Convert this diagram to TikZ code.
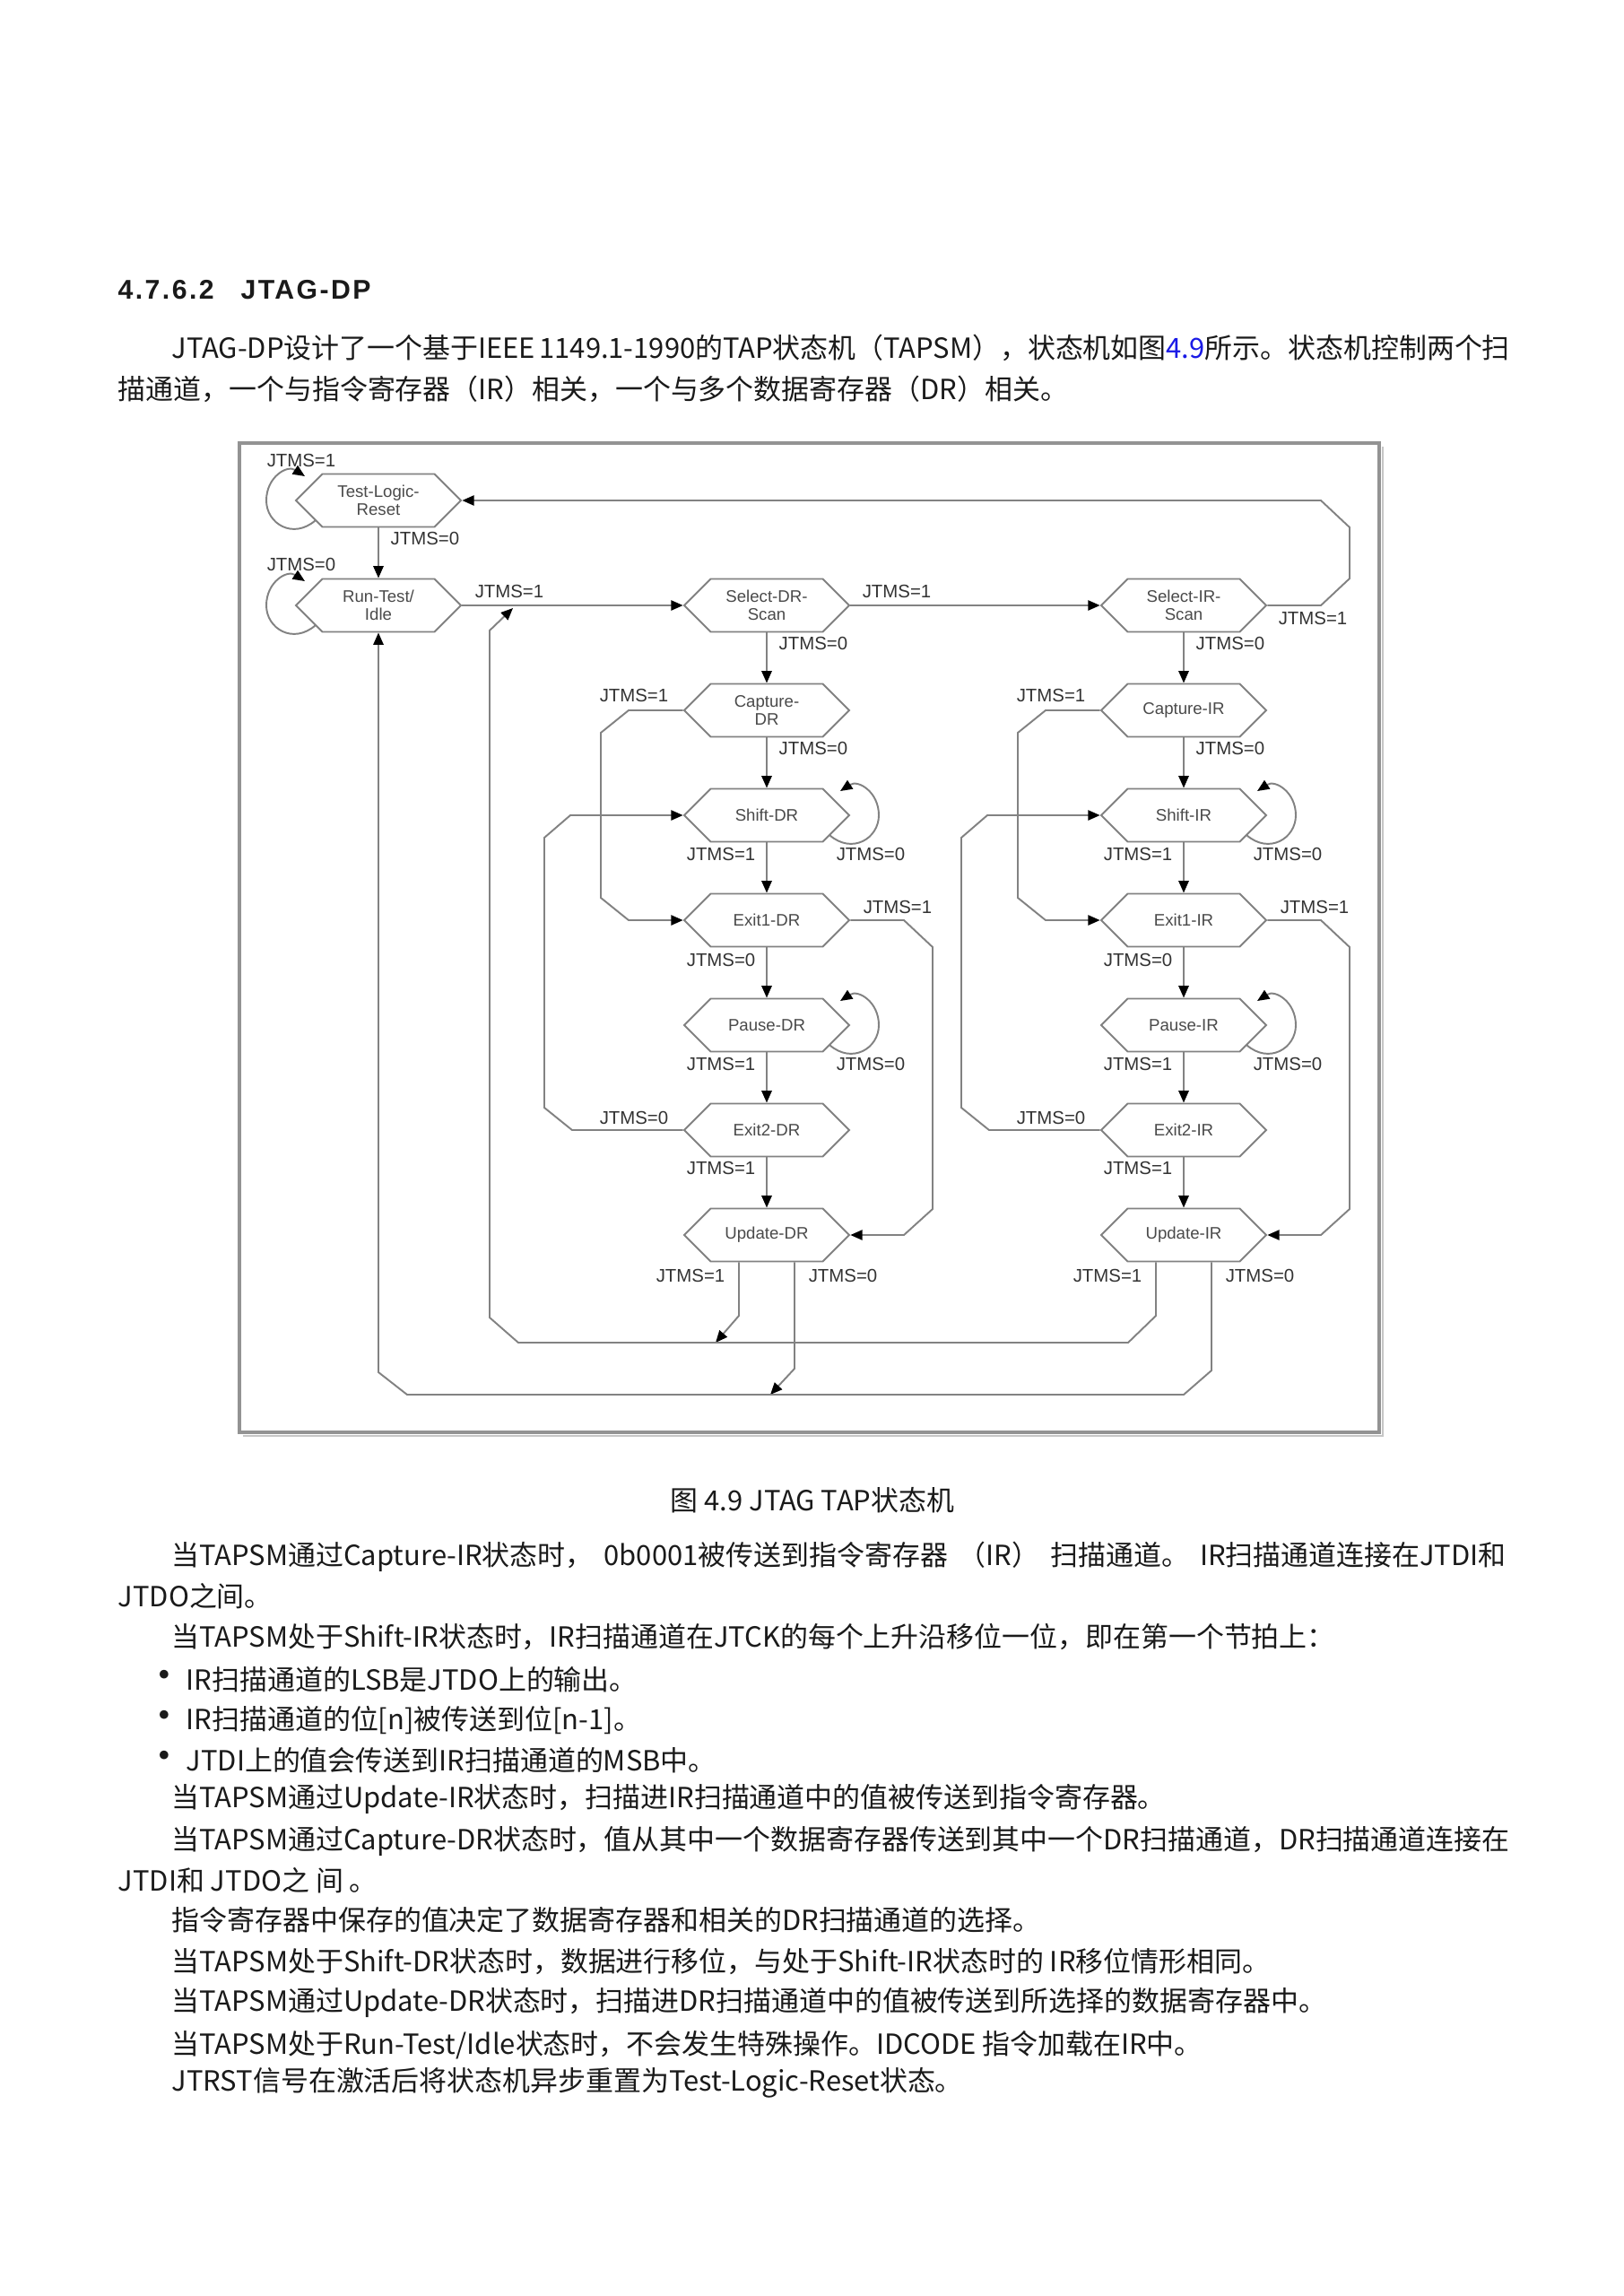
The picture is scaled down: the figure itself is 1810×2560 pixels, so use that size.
\documentclass[tikz,border=0pt]{standalone}
\usepackage{fontspec}
\setmainfont{Noto Sans CJK SC}
\newfontfamily\diagfont{Liberation Sans}
\newfontfamily\headfont[LetterSpace=8]{Liberation Sans}
\usepackage{tikz}
\usetikzlibrary{calc,shapes.symbols,arrows.meta,positioning}
\XeTeXlinebreaklocale "zh"
\XeTeXlinebreakskip=0pt plus 2pt
\definecolor{wiregray}{HTML}{828282}
\definecolor{statetext}{HTML}{4A4A4A}
\definecolor{labeltext}{HTML}{333333}
\definecolor{bodytext}{HTML}{1A1A1A}
\definecolor{linkblue}{HTML}{1A1AE6}
\newcommand{\bodysize}{\fontsize{8.8pt}{12pt}\selectfont}
\newcommand{\fullline}[1]{\hbox to 148.8mm{#1}}
\tikzset{
    tap state/.style={
        draw=wiregray, line width=0.55pt,
        signal, signal to=east and west, signal pointer angle=90,
        minimum width=18.4mm, minimum height=5.9mm, inner sep=0pt,
        text=statetext, align=center,
        font=\diagfont\fontsize{5.3pt}{5.8pt}\selectfont
    },
    tms label/.style={
        inner sep=0pt, text=labeltext,
        font=\diagfont\fontsize{5.8pt}{6pt}\selectfont
    },
    wire/.style={draw=wiregray, line width=0.55pt},
    body line/.style={anchor=west, inner sep=0pt, text=bodytext, font=\bodysize},
    >={Triangle[length=3.8pt,width=3.2pt,color=black]}
}
\begin{document}
\begin{tikzpicture}[x=0.1mm,y=-0.1mm]
\useasboundingbox (0,0) rectangle (1810,2560);
\fill[white] (0,0) rectangle (1810,2560);

% heading and intro
\node[body line, font=\headfont\bfseries\fontsize{8.6pt}{10pt}\selectfont] (head) at (131,323) {4.7.6.2\hspace{3mm}JTAG-DP};
\node[body line] (p1a) at (191,388) {\fullline{JTAG-DP设计了一个基于IEEE 1149.1-1990的TAP状态机（TAPSM），状态机如图\textcolor{linkblue}{4.9}所示。状态机控制两个扫}};
\node[body line] (p1b) at (131,434) {描通道，一个与指令寄存器（IR）相关，一个与多个数据寄存器（DR）相关。};

% frame
\draw[gray!45, line width=0.8pt] (271,1601) -- (1542,1601) -- (1542,498);
\draw[gray!85, line width=1.2pt] (267,494) rectangle (1538,1597);

% states
\node[tap state] (tlr) at (422,558) {Test-Logic-\\Reset};
\node[tap state] (rti) at (422,675) {Run-Test/\\Idle};
\node[tap state] (seldr) at (855,675) {Select-DR-\\Scan};
\node[tap state] (selir) at (1320,675) {Select-IR-\\Scan};
\foreach \r/\R/\x/\capt in {dr/DR/855/{Capture-\\DR}, ir/IR/1320/{Capture-IR}} {
    \node[tap state] (cap\r) at (\x,792) {\capt};
    \node[tap state] (shift\r) at (\x,909) {Shift-\R};
    \node[tap state] (exita\r) at (\x,1026) {Exit1-\R};
    \node[tap state] (pause\r) at (\x,1143) {Pause-\R};
    \node[tap state] (exitb\r) at (\x,1260) {Exit2-\R};
    \node[tap state] (upd\r) at (\x,1377) {Update-\R};
    % straight down
    \draw[wire,->] (sel\r.south) -- (cap\r.north);
    \draw[wire,->] (cap\r.south) -- (shift\r.north);
    \draw[wire,->] (shift\r.south) -- (exita\r.north);
    \draw[wire,->] (exita\r.south) -- (pause\r.north);
    \draw[wire,->] (pause\r.south) -- (exitb\r.north);
    \draw[wire,->] (exitb\r.south) -- (upd\r.north);
    % side paths
    \draw[wire,->] (cap\r.west) -- (\x-154,792) -- (\x-185,817) -- (\x-185,1001) -- (\x-154,1026) -- (exita\r.west);
    \draw[wire,->] (exitb\r.west) -- (\x-217,1260) -- (\x-248,1235) -- (\x-248,934) -- (\x-219,909) -- (shift\r.west);
    \draw[wire,->] (exita\r.east) -- (\x+153,1026) -- (\x+185,1056) -- (\x+185,1348) -- (\x+153,1377) -- (upd\r.east);
    % self loops
    \foreach \y in {909,1143}
        \draw[wire,->] (\x+70,\y+22) .. controls (\x+95,\y+44) and (\x+125,\y+26) .. (\x+125,\y)
            .. controls (\x+125,\y-26) and (\x+102,\y-40) .. (\x+82,\y-27);
    % labels
    \node[tms label, anchor=west] (ls\r) at (\x+13,717) {JTMS=0};
    \node[tms label, anchor=west] (lc\r) at (\x+13,834) {JTMS=0};
    \node[tms label] (lcx\r) at (\x-148,775) {JTMS=1};
    \node[tms label, anchor=east] (lsh\r) at (\x-12,952) {JTMS=1};
    \node[tms label] (lshl\r) at (\x+116,952) {JTMS=0};
    \node[tms label] (lex\r) at (\x+146,1011) {JTMS=1};
    \node[tms label, anchor=east] (le\r) at (\x-12,1070) {JTMS=0};
    \node[tms label, anchor=east] (lp\r) at (\x-12,1186) {JTMS=1};
    \node[tms label] (lpl\r) at (\x+116,1186) {JTMS=0};
    \node[tms label] (lb\r) at (\x-148,1246) {JTMS=0};
    \node[tms label, anchor=east] (lu\r) at (\x-12,1302) {JTMS=1};
    \node[tms label] (lua\r) at (\x-85,1422) {JTMS=1};
    \node[tms label] (lub\r) at (\x+85,1422) {JTMS=0};
}

% top row
\foreach \y in {558,675}
    \draw[wire,->] (352,\y+22) .. controls (327,\y+44) and (297,\y+26) .. (297,\y)
        .. controls (297,\y-26) and (320,\y-40) .. (340,\y-27);
\draw[wire,->] (tlr.south) -- (rti.north);
\draw[wire,->] (rti.east) -- (seldr.west);
\draw[wire,->] (seldr.east) -- (selir.west);
\draw[wire,->] (selir.east) -- (1473,675) -- (1505,645) -- (1505,588) -- (1473,558) -- (tlr.east);
\node[tms label] (ltlr) at (336,513) {JTMS=1};
\node[tms label, anchor=west] (ltr) at (435,600) {JTMS=0};
\node[tms label] (lrti) at (336,629) {JTMS=0};
\node[tms label] (lrs) at (568,659) {JTMS=1};
\node[tms label] (lss) at (1000,659) {JTMS=1};
\node[tms label] (lsir) at (1464,689) {JTMS=1};

% return paths from update states
\draw[wire,->] ([xshift=-3.1mm]upddr.south) -- (824,1467) -- (798,1497);
\draw[wire,->] ([xshift=3.1mm]upddr.south) -- (886,1526) -- (859,1555);
\draw[wire,->] ([xshift=-3.1mm]updir.south) -- (1289,1467) -- (1258,1497) -- (578,1497) -- (546,1469) -- (546,703) -- (572,678);
\draw[wire,->] ([xshift=3.1mm]updir.south) -- (1351,1528) -- (1320,1555) -- (454,1555) -- (422,1530) -- (rti.south);

% caption and text
\node[body line, anchor=center] (cap) at (906,1673) {图 4.9 JTAG TAP状态机};
\node[body line] (t1) at (191,1736) {\fullline{当TAPSM通过Capture-IR状态时， 0b0001被传送到指令寄存器 （IR） 扫描通道。 IR扫描通道连接在JTDI和}};
\node[body line] (t2) at (131,1780) {JTDO之间。};
\node[body line] (t3) at (191,1825) {当TAPSM处于Shift-IR状态时，IR扫描通道在JTCK的每个上升沿移位一位，即在第一个节拍上：};
\foreach \y/\t in {1873/{IR扫描通道的LSB是JTDO上的输出。}, 1918/{IR扫描通道的位[n]被传送到位[n-1]。}, 1963/{JTDI上的值会传送到IR扫描通道的MSB中。}} {
    \node[body line, anchor=center, font=\fontsize{13pt}{13pt}\selectfont] (bul\y) at (183,\y) {•};
    \node[body line] (item\y) at (207,\y) {\t};
}
\node[body line] (t7) at (191,2006) {当TAPSM通过Update-IR状态时，扫描进IR扫描通道中的值被传送到指令寄存器。};
\node[body line] (t8) at (191,2053) {\fullline{当TAPSM通过Capture-DR状态时，值从其中一个数据寄存器传送到其中一个DR扫描通道，DR扫描通道连接在}};
\node[body line] (t9) at (131,2097) {JTDI和 JTDO之 间 。};
\node[body line] (t10) at (191,2141) {指令寄存器中保存的值决定了数据寄存器和相关的DR扫描通道的选择。};
\node[body line] (t11) at (191,2187) {当TAPSM处于Shift-DR状态时，数据进行移位，与处于Shift-IR状态时的 IR移位情形相同。};
\node[body line] (t12) at (191,2233) {当TAPSM通过Update-DR状态时，扫描进DR扫描通道中的值被传送到所选择的数据寄存器中。};
\node[body line] (t13) at (191,2280) {当TAPSM处于Run-Test/Idle状态时，不会发生特殊操作。IDCODE 指令加载在IR中。};
\node[body line] (t14) at (191,2322) {JTRST信号在激活后将状态机异步重置为Test-Logic-Reset状态。};
\end{tikzpicture}
\end{document}
